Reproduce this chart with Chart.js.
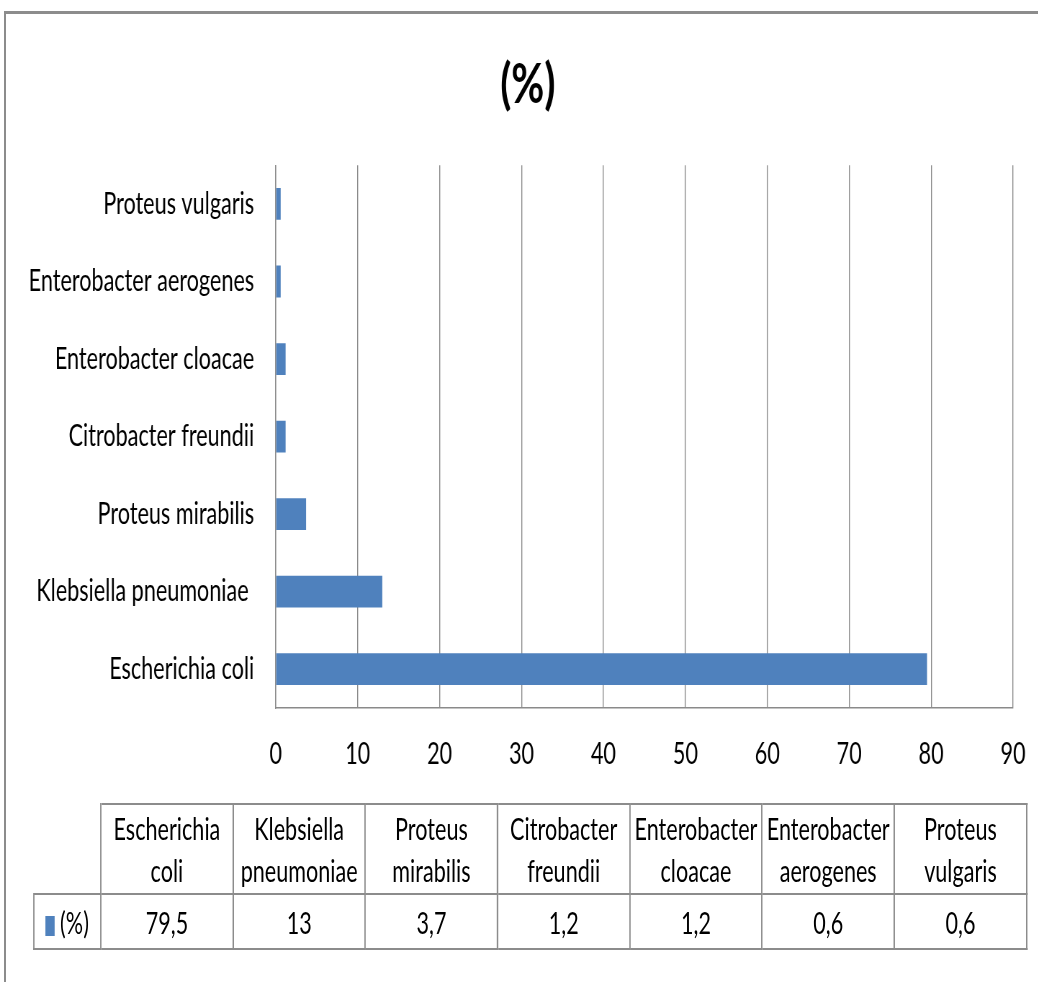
<!DOCTYPE html>
<html>
<head>
<meta charset="utf-8">
<script src="https://cdn.jsdelivr.net/npm/chart.js@4"></script>
<style>
  html, body { margin: 0; padding: 0; background: #fff; overflow: hidden; }
  body { width: 1038px; height: 982px; position: relative; }
  #frame {
    position: absolute; left: 4px; top: 11px; width: 1100px; height: 1000px;
    border-top: 3px solid #8c8c8c; border-left: 2px solid #8c8c8c;
  }
  /* everything is laid out wide and squeezed horizontally */
  #stage {
    position: absolute; left: 0; top: 0; width: 1442px; height: 982px;
    transform: scaleX(0.72); transform-origin: 0 0;
  }
  #myChart { position: absolute; left: 0; top: 0; }
  #datatable {
    position: absolute; left: 46px; top: 803px;
    border-collapse: collapse; table-layout: fixed;
    font-family: Lato, sans-serif; font-size: 30px; color: #000;
  }
  #datatable td { border: 2px solid #8c8c8c; text-align: center; padding: 0; }
  #datatable tr.head td { height: 88px; line-height: 42px; }
  #datatable tr.head td.blank { border-top: none; border-left: none; }
  #datatable tr.vals td { height: 53px; }
  #datatable .key {
    display: inline-block; width: 13px; height: 20px; background: #4F81BD;
    margin-right: 7px; vertical-align: -2px;
  }
</style>
</head>
<body>
<div id="frame"></div>
<div id="stage">
  <canvas id="myChart" width="1442" height="790"></canvas>
  <table id="datatable"></table>
</div>
<script>
const seriesName = '(%)';
const categories = ['Escherichia coli', 'Klebsiella pneumoniae ', 'Proteus mirabilis', 'Citrobacter freundii',
                    'Enterobacter cloacae', 'Enterobacter aerogenes', 'Proteus vulgaris'];
const values = [79.5, 13, 3.7, 1.2, 1.2, 0.6, 0.6];
const xMin = 0;
const xMax = 90;
const xStep = 10;

const barColor = '#4F81BD';
const lineColor = '#8a8a8a';
const titleCenter = 733;

// the title sits over the whole frame, not just the padded canvas
const titleShift = {
    id: 'titleShift',
    afterLayout(chart) {
        const tb = chart.titleBlock;
        if (!tb) return;
        const d = titleCenter - (tb.left + tb.right) / 2;
        tb.left += d;
        tb.right += d;
    }
};

function buildTable() {
    const table = document.getElementById('datatable');
    const cols = '<colgroup><col style="width:93px">' +
        categories.map(() => '<col style="width:183.7px">').join('') + '</colgroup>';
    const head = '<tr class="head"><td class="blank"></td>' +
        categories.map(c => {
            const words = c.trim().split(' ');
            return `<td>${words[0]}<br>${words.slice(1).join(' ')}</td>`;
        }).join('') + '</tr>';
    const vals = `<tr class="vals"><td><span class="key"></span>${seriesName}</td>` +
        values.map(v => `<td>${String(v).replace('.', ',')}</td>`).join('') + '</tr>';
    table.innerHTML = cols + head + vals;
}

function initChart() {
    const ctx = document.getElementById('myChart').getContext('2d');
    new Chart(ctx, {
        type: 'bar',
        data: {
            labels: categories,
            datasets: [{
                label: seriesName,
                data: values,
                backgroundColor: barColor,
                borderWidth: 0,
                barPercentage: 0.41,
                categoryPercentage: 1
            }]
        },
        plugins: [titleShift],
        options: {
            indexAxis: 'y',
            responsive: false,
            animation: false,
            devicePixelRatio: 1,
            layout: { padding: { left: 0, right: 35, top: 0, bottom: 0 } },
            plugins: {
                legend: { display: false },
                tooltip: { enabled: false },
                title: {
                    display: true,
                    text: seriesName,
                    color: '#000',
                    font: { family: 'Lato', size: 56, weight: 'bold' },
                    padding: { top: 51, bottom: 47 }
                }
            },
            scales: {
                x: {
                    min: xMin,
                    max: xMax,
                    afterFit: (scale) => {
                        scale.height = 82;
                        scale.paddingLeft = 0;
                        scale.paddingRight = 0;
                    },
                    ticks: {
                        stepSize: xStep,
                        color: '#000',
                        font: { family: 'Lato', size: 30 },
                        padding: 28
                    },
                    grid: { color: lineColor, lineWidth: 1.4, drawTicks: false },
                    border: { color: lineColor, width: 1.5 }
                },
                y: {
                    reverse: true,
                    afterFit: (scale) => { scale.width = 383; },
                    ticks: {
                        color: '#000',
                        font: { family: 'Lato', size: 30 },
                        padding: 30
                    },
                    grid: { display: false, drawTicks: false },
                    border: { color: lineColor, width: 1.4 }
                }
            }
        }
    });
}

buildTable();
initChart();
</script>
</body>
</html>
